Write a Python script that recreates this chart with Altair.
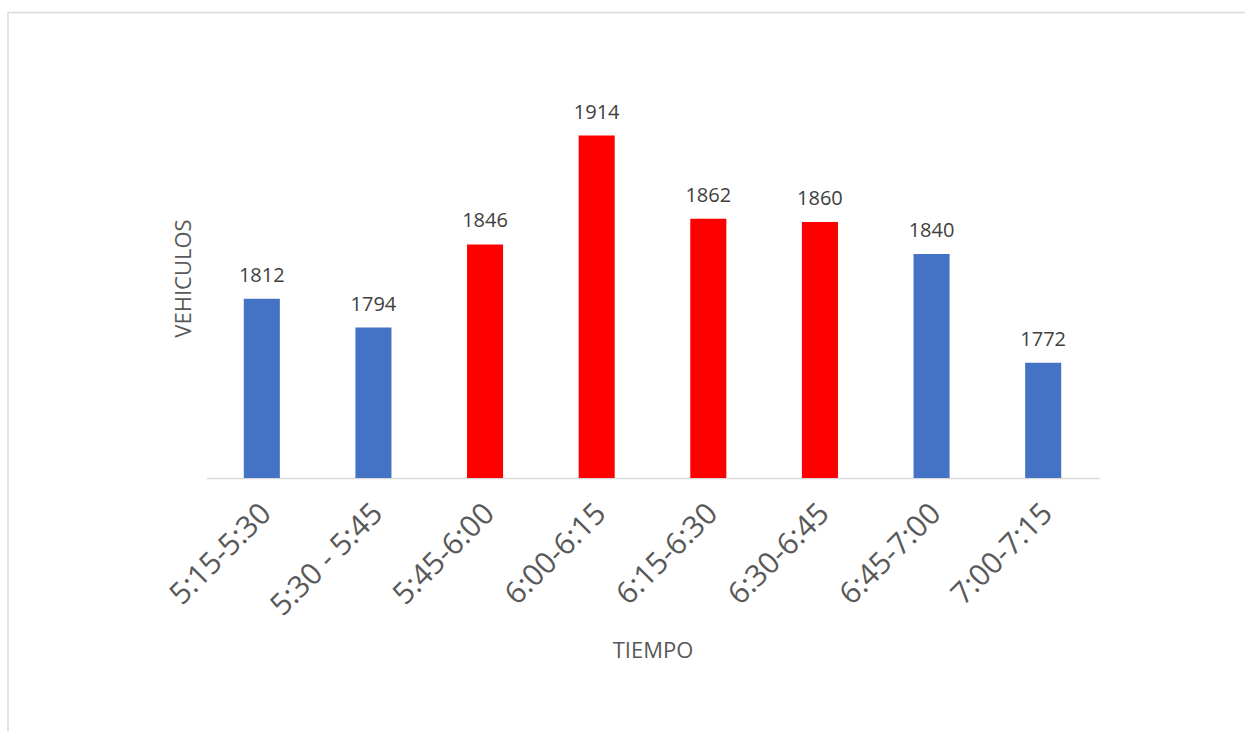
import altair as alt
import pandas as pd

categories = ["5:15-5:30", "5:30 - 5:45", "5:45-6:00", "6:00-6:15",
              "6:15-6:30", "6:30-6:45", "6:45-7:00", "7:00-7:15"]
values = [1812, 1794, 1846, 1914, 1862, 1860, 1840, 1772]
colors = ["#4472C4", "#4472C4", "#FF0000", "#FF0000",
          "#FF0000", "#FF0000", "#4472C4", "#4472C4"]

df = pd.DataFrame({"cat": categories, "val": values, "col": colors})

FONT = "Open Sans"
W, H = 893, 400
PL, PT = 206, 78

x = alt.X("cat:N", sort=categories,
          scale=alt.Scale(paddingInner=0.677, paddingOuter=0.3385),
          axis=alt.Axis(title="TIEMPO", labelAngle=-45, labelFontSize=30,
                        labelColor="#595959", labelFont=FONT, labelPadding=20,
                        labelOffset=-6,
                        ticks=False, domainColor="#D9D9D9", domainWidth=1.5,
                        titleFont=FONT, titleFontSize=22, titleFontWeight="normal",
                        titleColor="#595959", titlePadding=20, grid=False))
y = alt.Y("val:Q", scale=alt.Scale(domain=[1700, 1950], zero=False, nice=False),
          axis=alt.Axis(title="VEHICULOS", labels=False, ticks=False, domain=False,
                        grid=False, titleFont=FONT, titleFontSize=22,
                        titleFontWeight="normal", titleColor="#595959",
                        titlePadding=11))

bars = alt.Chart(df).mark_bar(clip=True).encode(
    x=x, y=y, color=alt.Color("col:N", scale=None))

labels = alt.Chart(df).mark_text(baseline="alphabetic", dy=-17, fontSize=20,
                                 font=FONT, color="#404040").encode(
    x=alt.X("cat:N", sort=categories), y="val:Q", text="val:Q")

frame = alt.Chart(alt.Data(values=[{}])).mark_rect(
    fill="transparent", stroke="#D9D9D9", strokeWidth=1.5).encode(
    x=alt.value(8 - PL), x2=alt.value(1400 - PL),
    y=alt.value(12.5 - PT), y2=alt.value(900 - PT))

chart = alt.layer(frame, bars, labels).properties(
    width=W, height=H,
    autosize=alt.AutoSizeParams(type="none"),
    padding={"left": PL, "top": PT, "right": 1245 - PL - W, "bottom": 731 - PT - H},
    background="white",
).configure_view(stroke=None)

chart.save("out.html", embed_options={"renderer": "svg", "actions": False})
